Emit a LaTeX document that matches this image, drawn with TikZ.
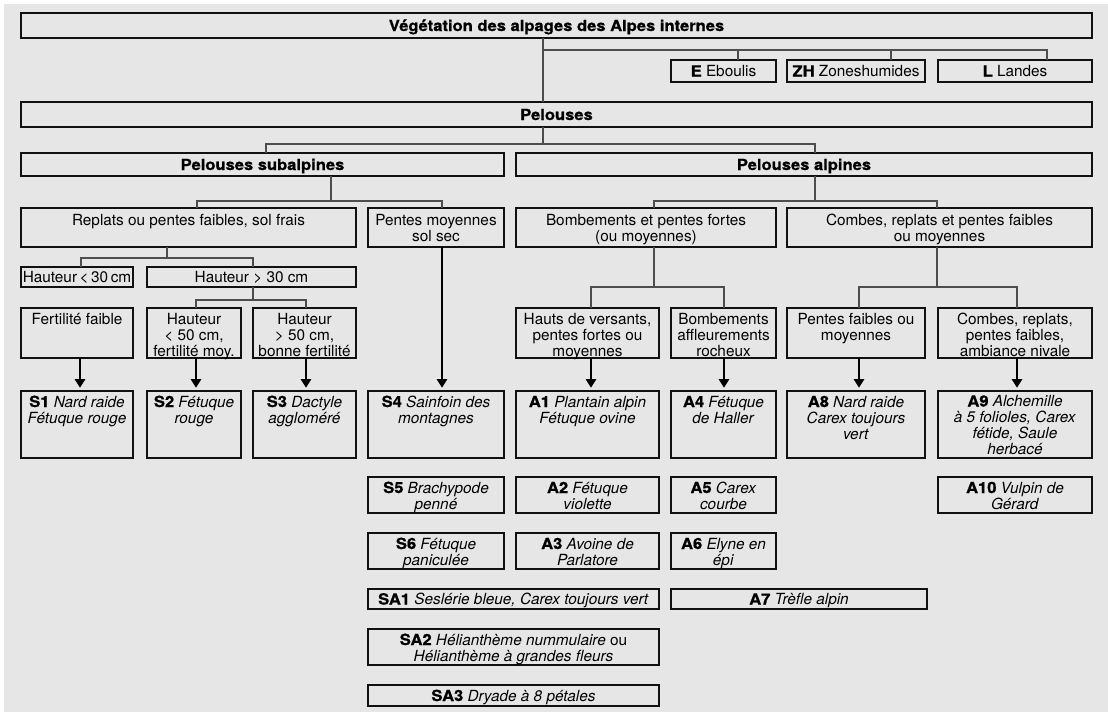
\documentclass[tikz,border=0pt]{standalone}
\usepackage{fontspec}
\usetikzlibrary{arrows.meta}
\setmainfont{TeX Gyre Heros}
\newfontfamily\heavyfam{TeX Gyre Heros}[BoldFeatures={FakeStretch=1.08,FakeBold=0.9}]
\newcommand\hvy[1]{{\heavyfam\bfseries #1}}
\definecolor{bgc}{HTML}{E6E6E6}
\definecolor{linec}{HTML}{4D4D4D}
\definecolor{boxc}{HTML}{111111}
% name, x1, y1, x2, y2, baseline offset, text
\newcommand\bx[7]{%
  \node[box, anchor=north west, minimum width={(#4-#2)*0.75pt}, minimum height={(#5-#3)*0.75pt}] (#1) at (#2,#3) {};
  \node[txt, anchor=north] (#1-t) at ({(#2+#4)/2},{#3+#6-13.33}) {\rule{0pt}{10pt}#7};%
}
\begin{document}
\begin{tikzpicture}[x=0.75pt,y=-0.75pt,
  box/.style={draw=boxc, line width=0.9pt, rectangle, inner sep=0pt, outer sep=0pt},
  txt/.style={inner sep=0pt, outer sep=0pt, align=center, text=black, font=\fontsize{11.5}{12}\selectfont},
  conn/.style={draw=linec, line width=0.8pt},
  arr/.style={draw=black, line width=0.8pt, -{Triangle[width=8pt,length=6.5pt]}, shorten >=2.5pt}]
\useasboundingbox (0,0) rectangle (1108,713);
\fill[bgc] (4,4) rectangle (1108,712);

% boxes
\bx{title}{21}{13}{1092}{38}{18}{\hvy{Végétation des alpages des Alpes internes}}
\bx{E}{671}{60}{776}{82}{16.5}{\hvy{E} Eboulis}
\bx{ZH}{787}{60}{925}{82}{16.5}{\hvy{ZH} Zoneshumides}
\bx{L}{938}{60}{1092}{82}{16.5}{\hvy{L} Landes}
\bx{pel}{21}{102}{1092}{127}{18}{\hvy{Pelouses}}
\bx{sub}{21}{153}{504}{176}{17}{\hvy{Pelouses subalpines}}
\bx{alp}{516}{153}{1092}{176}{17}{\hvy{Pelouses alpines}}
\bx{rep}{21}{208}{356}{247}{17}{Replats ou pentes faibles, sol frais}
\bx{pm}{368}{208}{504}{247}{17}{Pentes moyennes\\sol sec}
\bx{bomb}{516}{208}{776}{247}{17}{Bombements et pentes fortes\\(ou moyennes)}
\bx{comb}{787}{208}{1092}{247}{17}{Combes, replats et pentes faibles\\ou moyennes}
\bx{h1}{21}{267}{133}{287}{15.5}{Hauteur\,<\,30\,cm}
\bx{h2}{147}{267}{356}{287}{15.5}{Hauteur > 30 cm}
\bx{ff}{21}{308}{133}{358}{16}{Fertilité faible}
\bx{h3}{147}{308}{241}{358}{16}{Hauteur\\< 50 cm,\\fertilité moy.}
\bx{h4}{253}{308}{356}{358}{16}{Hauteur\\> 50 cm,\\bonne fertilité}
\bx{hv}{516}{308}{659}{358}{16}{Hauts de versants,\\pentes fortes ou\\moyennes}
\bx{ba}{671}{308}{776}{358}{16}{Bombements\\affleurements\\rocheux}
\bx{pf}{787}{308}{925}{358}{16}{Pentes faibles ou\\moyennes}
\bx{cr}{938}{308}{1092}{358}{16}{Combes, replats,\\pentes faibles,\\ambiance nivale}
\bx{S1}{21}{391}{133}{458}{16}{\hvy{S1} \textit{Nard raide}\\\textit{Fétuque rouge}}
\bx{S2}{147}{391}{241}{458}{16}{\hvy{S2} \textit{Fétuque}\\\textit{rouge}}
\bx{S3}{253}{391}{356}{458}{16}{\hvy{S3} \textit{Dactyle}\\\textit{aggloméré}}
\bx{S4}{368}{391}{504}{458}{16}{\hvy{S4} \textit{Sainfoin des}\\\textit{montagnes}}
\bx{A1}{516}{391}{659}{458}{16}{\hvy{A1} \textit{Plantain alpin}\\\textit{Fétuque ovine}}
\bx{A4}{671}{391}{776}{458}{16}{\hvy{A4} \textit{Fétuque}\\\textit{de Haller}}
\bx{A8}{787}{391}{925}{458}{16}{\hvy{A8} \textit{Nard raide}\\\textit{Carex toujours}\\\textit{vert}}
\bx{A9}{938}{391}{1092}{458}{15.5}{\hvy{A9} \textit{Alchemille}\\\textit{à 5 folioles, Carex}\\\textit{fétide, Saule}\\\textit{herbacé}}
\bx{S5}{368}{477}{504}{513}{16}{\hvy{S5} \textit{Brachypode}\\\textit{penné}}
\bx{A2}{516}{477}{659}{513}{16}{\hvy{A2} \textit{Fétuque}\\\textit{violette}}
\bx{A5}{671}{477}{776}{513}{16}{\hvy{A5} \textit{Carex}\\\textit{courbe}}
\bx{A10}{938}{477}{1092}{513}{16}{\hvy{A10} \textit{Vulpin de}\\\textit{Gérard}}
\bx{S6}{368}{533}{504}{569}{16}{\hvy{S6} \textit{Fétuque}\\\textit{paniculée}}
\bx{A3}{516}{533}{659}{569}{16}{\hvy{A3} \textit{Avoine de}\\\textit{Parlatore}}
\bx{A6}{671}{533}{776}{569}{16}{\hvy{A6} \textit{Elyne en}\\\textit{épi}}
\bx{SA1}{368}{589}{659}{609}{15.5}{\hvy{SA1} \textit{Seslérie bleue, Carex toujours vert}}
\bx{A7}{671}{589}{927}{609}{15.5}{\hvy{A7} \textit{Trèfle alpin}}
\bx{SA2}{368}{629}{659}{665}{16}{\hvy{SA2} \textit{Hélianthème nummulaire} ou\\\textit{Hélianthème à grandes fleurs}}
\bx{SA3}{368}{685}{659}{706}{16}{\hvy{SA3} \textit{Dryade à 8 pétales}}

% junctions
\coordinate (j1) at (543,50);
\coordinate (j2) at (543,144);
\coordinate (j3) at (331,201);
\coordinate (j4) at (815,201);
\coordinate (j5) at (167,258);
\coordinate (j6) at (253,300);
\coordinate (j7) at (654,287);
\coordinate (j8) at (937,287);

% connectors
\draw[conn] (title.south -| j1) -- (pel.north -| j1);
\draw[conn] (j1) -| (E.north -| 738,0);
\draw[conn] (j1) -| (ZH.north -| 891,0);
\draw[conn] (j1) -| (L.north -| 1047,0);
\draw[conn] (pel.south -| j2) -- (j2);
\draw[conn] (j2) -| (sub.north -| 266,0);
\draw[conn] (j2) -| (alp.north -| 815,0);
\draw[conn] (sub.south -| j3) -- (j3);
\draw[conn] (j3) -| (rep.north -| 197,0);
\draw[conn] (j3) -| (pm.north -| 442,0);
\draw[conn] (alp.south -| j4) -- (j4);
\draw[conn] (j4) -| (bomb.north -| 654,0);
\draw[conn] (j4) -| (comb.north -| 937,0);
\draw[conn] (rep.south -| j5) -- (j5);
\draw[conn] (j5) -| (h1.north -| 81,0);
\draw[conn] (j5) -| (h2.north -| 253,0);
\draw[conn] (h2.south -| j6) -- (j6);
\draw[conn] (j6) -| (h3.north -| 196,0);
\draw[conn] (j6) -| (h4.north -| 306,0);
\draw[conn] (bomb.south -| j7) -- (j7);
\draw[conn] (j7) -| (hv.north -| 591,0);
\draw[conn] (j7) -| (ba.north -| 724,0);
\draw[conn] (comb.south -| j8) -- (j8);
\draw[conn] (j8) -| (pf.north -| 859,0);
\draw[conn] (j8) -| (cr.north -| 1017,0);

% arrows
\draw[arr] (ff.south -| 80,0) -- (S1.north -| 80,0);
\draw[arr] (h3.south -| 196,0) -- (S2.north -| 196,0);
\draw[arr] (h4.south -| 306,0) -- (S3.north -| 306,0);
\draw[arr] (pm.south -| 442,0) -- (S4.north -| 442,0);
\draw[arr] (hv.south -| 591,0) -- (A1.north -| 591,0);
\draw[arr] (ba.south -| 724,0) -- (A4.north -| 724,0);
\draw[arr] (pf.south -| 859,0) -- (A8.north -| 859,0);
\draw[arr] (cr.south -| 1017,0) -- (A9.north -| 1017,0);
\end{tikzpicture}
\end{document}
